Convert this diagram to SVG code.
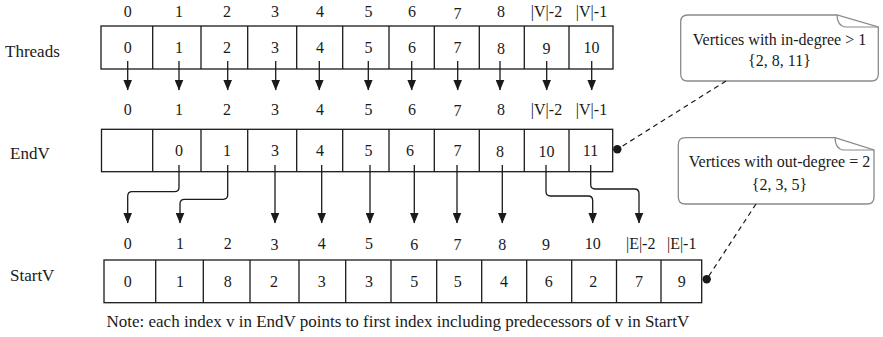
<svg xmlns="http://www.w3.org/2000/svg" width="883" height="337" viewBox="0 0 883 337">
  <style>
    text { font-family: "Liberation Serif", "Times New Roman", serif; fill: #1a1a1a; }
    .lbl { font-size: 17px; }
    .num { font-size: 16px; text-anchor: middle; }
    .note { font-size: 17px; }
    .call { font-size: 16px; text-anchor: middle; }
    .cell { fill: #ffffff; stroke: #1a1a1a; stroke-width: 1.3; }
    .div { stroke: #1a1a1a; stroke-width: 1.3; }
    .arrow { fill: none; stroke: #1a1a1a; stroke-width: 1.3; marker-end: url(#ah); }
    .bubble { fill: #ffffff; stroke: #8a8a8a; stroke-width: 1.3; }
    .fold { fill: none; stroke: #8a8a8a; stroke-width: 1.2; }
    .dash { fill: none; stroke: #1a1a1a; stroke-width: 1.2; stroke-dasharray: 5 4; }
  </style>
  <defs>
    <marker id="ah" viewBox="0 0 11 9" refX="10.5" refY="4.5" markerWidth="11" markerHeight="9" markerUnits="userSpaceOnUse" orient="auto">
      <path d="M0,0 L11,4.5 L0,9 Z" fill="#1a1a1a"/>
    </marker>
  </defs>

  <!-- Threads array -->
  <g id="threads">
    <text class="lbl" x="5" y="57">Threads</text>
    <g class="num">
      <text x="127.7" y="17">0</text><text x="179" y="17">1</text><text x="227" y="17">2</text>
      <text x="275" y="17">3</text><text x="320" y="17">4</text><text x="368.5" y="17">5</text>
      <text x="412" y="17">6</text><text x="457.5" y="18.5">7</text><text x="501" y="17">8</text>
      <text x="546.5" y="17">|V|-2</text><text x="591.5" y="17">|V|-1</text>
    </g>
    <rect class="cell" x="101" y="26" width="512" height="43"/>
    <path class="div" d="M152.7,26V69M201,26V69M247.7,26V69M296.7,26V69M342.7,26V69M389,26V69M434.3,26V69M479.3,26V69M524.3,26V69M569,26V69"/>
    <g class="num">
      <text x="127.7" y="53">0</text><text x="179" y="53">1</text><text x="227" y="53">2</text>
      <text x="275" y="53">3</text><text x="320" y="53">4</text><text x="368.5" y="53">5</text>
      <text x="412" y="53">6</text><text x="457.5" y="53">7</text><text x="501" y="54">8</text>
      <text x="546.5" y="54">9</text><text x="591.5" y="53">10</text>
    </g>
  </g>

  <!-- EndV array -->
  <g id="endv">
    <text class="lbl" x="10" y="159">EndV</text>
    <g class="num">
      <text x="127.7" y="114.5">0</text><text x="179" y="114.5">1</text><text x="227" y="114.5">2</text>
      <text x="275" y="114.5">3</text><text x="320" y="114.5">4</text><text x="368.5" y="114.5">5</text>
      <text x="412" y="114.5">6</text><text x="457.5" y="115.5">7</text><text x="501" y="114.5">8</text>
      <text x="546.5" y="114.5">|V|-2</text><text x="591.5" y="114.5">|V|-1</text>
    </g>
    <rect class="cell" x="101.5" y="129.3" width="511.2" height="42.4"/>
    <path class="div" d="M152.7,129.3V171.7M201,129.3V171.7M247.7,129.3V171.7M296.7,129.3V171.7M342.7,129.3V171.7M389,129.3V171.7M434.3,129.3V171.7M479.3,129.3V171.7M524.3,129.3V171.7M569,129.3V171.7"/>
    <g class="num">
      <text x="179" y="156">0</text><text x="227" y="156">1</text>
      <text x="275" y="156">3</text><text x="320" y="156">4</text><text x="368.5" y="155.5">5</text>
      <text x="410" y="156">6</text><text x="457.5" y="156">7</text><text x="500" y="157">8</text>
      <text x="546.5" y="157">10</text><text x="590.5" y="156">11</text>
    </g>
  </g>

  <!-- StartV array -->
  <g id="startv">
    <text class="lbl" x="10" y="281">StartV</text>
    <g class="num">
      <text x="127.7" y="248.5">0</text><text x="180" y="248.5">1</text><text x="227.7" y="248.5">2</text>
      <text x="274.5" y="249.5">3</text><text x="321.7" y="248.5">4</text><text x="369" y="248.5">5</text>
      <text x="414.3" y="249.5">6</text><text x="457.5" y="250">7</text><text x="502.3" y="249.5">8</text>
      <text x="546" y="250">9</text><text x="592.7" y="248.5">10</text>
      <text x="640.7" y="248.5">|E|-2</text><text x="681.7" y="248.5">|E|-1</text>
    </g>
    <rect class="cell" x="104" y="260" width="597.7" height="42.7"/>
    <path class="div" d="M155.7,260V302.7M203.3,260V302.7M250,260V302.7M299,260V302.7M345.7,260V302.7M391,260V302.7M436.7,260V302.7M481.7,260V302.7M526.7,260V302.7M571.7,260V302.7M616.5,260V302.7M661,260V302.7"/>
    <g class="num">
      <text x="127.7" y="287">0</text><text x="180" y="287">1</text><text x="227.7" y="287">8</text>
      <text x="274" y="287">2</text><text x="321.7" y="287">3</text><text x="369" y="287">3</text>
      <text x="414.3" y="287">5</text><text x="457.7" y="287">5</text><text x="504" y="287">4</text>
      <text x="548.7" y="287">6</text><text x="593.3" y="287">2</text><text x="639" y="287">7</text>
      <text x="681.7" y="287">9</text>
    </g>
  </g>

  <!-- Callout: in-degree -->
  <g id="callout-indegree">
    <path class="bubble" d="M687.7,15 H837 L878.3,27 V74 Q878.3,81 871.3,81 H687.7 Q680.7,81 680.7,74 V22 Q680.7,15 687.7,15 Z"/>
    <path class="fold" d="M837,15 Q837.5,26.5 846,27 H878.3"/>
    <text class="call" x="779.5" y="45">Vertices with in-degree &gt; 1</text>
    <text class="call" x="779.5" y="66">{2, 8, 11}</text>
  </g>

  <!-- Callout: out-degree -->
  <g id="callout-outdegree">
    <path class="bubble" d="M685.3,137.7 H835 L874,150 V197 Q874,204 867,204 H685.3 Q678.3,204 678.3,197 V144.7 Q678.3,137.7 685.3,137.7 Z"/>
    <path class="fold" d="M835,137.7 Q835.5,149.5 844,150 H874"/>
    <text class="call" x="779.5" y="167">Vertices with out-degree = 2</text>
    <text class="call" x="779.5" y="190">{2, 3, 5}</text>
  </g>

  <!-- Connectors -->
  <g id="connectors">
    <!-- Threads to EndV -->
    <path class="arrow" d="M127.7,61V90"/>
    <path class="arrow" d="M179,61V90"/>
    <path class="arrow" d="M227.7,61V90"/>
    <path class="arrow" d="M275.7,61V90"/>
    <path class="arrow" d="M319.3,61V90"/>
    <path class="arrow" d="M368.3,61V90"/>
    <path class="arrow" d="M411.7,61V90"/>
    <path class="arrow" d="M457.7,61V90"/>
    <path class="arrow" d="M500,61V90"/>
    <path class="arrow" d="M546.7,61V90"/>
    <path class="arrow" d="M591.7,61V90"/>
    <!-- EndV to StartV -->
    <path class="arrow" d="M179,165 V187.2 Q179,191.7 174.5,191.7 H132.2 Q127.7,191.7 127.7,196.2 V223"/>
    <path class="arrow" d="M227.7,165 V194.8 Q227.7,199.3 223.2,199.3 H184.5 Q180,199.3 180,203.8 V223"/>
    <path class="arrow" d="M275,165V223"/>
    <path class="arrow" d="M321.7,165V223"/>
    <path class="arrow" d="M370,165V223"/>
    <path class="arrow" d="M414.3,165V223"/>
    <path class="arrow" d="M457,165V223"/>
    <path class="arrow" d="M502.3,165V223"/>
    <path class="arrow" d="M546,165 V191.5 Q546,196 550.5,196 H588.2 Q592.7,196 592.7,200.5 V223"/>
    <path class="arrow" d="M590.7,165 V184.5 Q590.7,189 595.2,189 H634.5 Q639,189 639,193.5 V223"/>
    <!-- callout leaders -->
    <path class="dash" d="M726,81 L617.3,149.3"/>
    <circle cx="617.3" cy="149.3" r="4.2" fill="#1a1a1a"/>
    <path class="dash" d="M756,204 L706.7,279.3"/>
    <circle cx="706.7" cy="279.3" r="4.2" fill="#1a1a1a"/>
  </g>

  <text class="note" x="106.5" y="327">Note: each index v in EndV points to first index including predecessors of v in StartV</text>
</svg>
